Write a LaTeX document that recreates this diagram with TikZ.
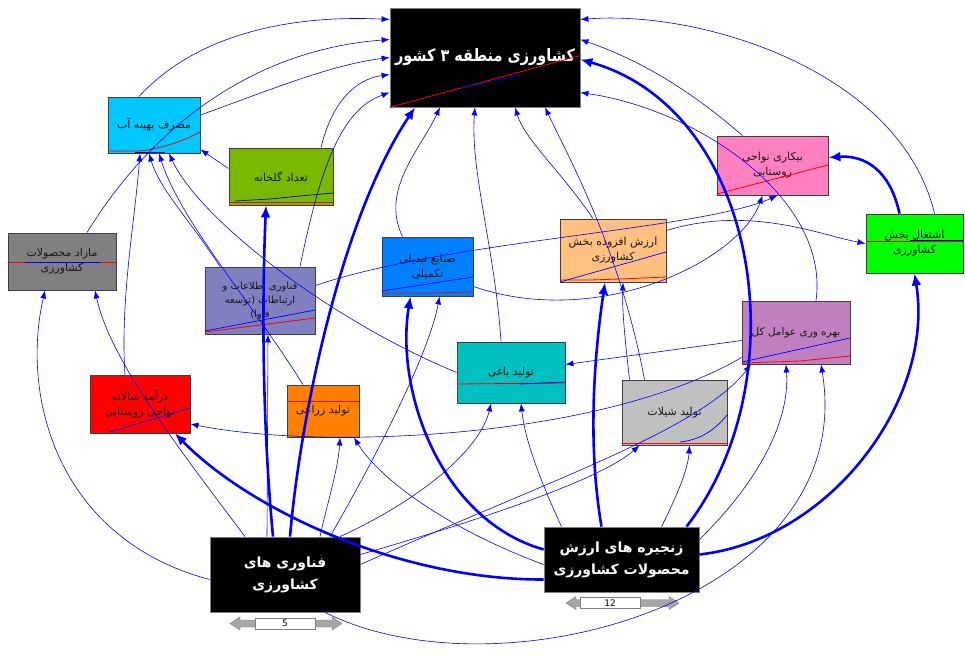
\documentclass[tikz,border=0pt]{standalone}
\usepackage{fontspec}
\setmainfont{DejaVu Sans}
\newfontfamily\arabicfont[Script=Arabic]{DejaVu Sans}
\TeXXeTstate=1
\usetikzlibrary{arrows.meta}
\newcommand{\fa}[1]{{\arabicfont\beginR #1\endR}}
\definecolor{arrblue}{HTML}{0000FF}
\begin{document}
\begin{tikzpicture}[x=1pt,y=-1pt,
 box/.style={draw=black!75, line width=0.9pt, inner sep=1pt, align=center,
   font=\fontsize{11}{15}\selectfont, text=black!90},
 bigbox/.style={draw=gray, line width=0.8pt, fill=black, text=white, align=center, inner sep=0pt,
   font=\fontsize{14}{22}\selectfont\bfseries},
 lnk/.style={draw=arrblue, line width=0.6pt, -{Latex[length=8pt,width=6pt]}},
 thk/.style={draw=arrblue, line width=2.6pt, -{Latex[length=12pt,width=10pt]}},
 spr/.style={red, line width=0.8pt},
 spb/.style={arrblue, line width=0.7pt},
]
\useasboundingbox[fill=white] (0,0) rectangle (965,668);

% ---------- nodes ----------
\node[bigbox, minimum width=190pt, minimum height=99pt, font=\fontsize{17}{21}\selectfont\bfseries] (top) at (485,57.5) {\scalebox{0.85}[1]{\fa{کشاورزی منطقه ۳ کشور}}};
\node[box, fill={rgb,255:red,0;green,200;blue,255}, minimum width=92pt, minimum height=56pt] (mas) at (154,125) {\fa{مصرف بهینه آب}};
\node[box, fill={rgb,255:red,122;green,184;blue,0}, minimum width=104pt, minimum height=57pt] (gol) at (281,176.5) {\fa{تعداد گلخانه}};
\node[box, fill={rgb,255:red,128;green,128;blue,128}, minimum width=108pt, minimum height=57pt] (mazad) at (62,261.5) {\fa{مازاد محصولات}\\\fa{کشاورزی}};
\node[box, fill={rgb,255:red,128;green,128;blue,192}, minimum width=110pt, minimum height=67pt, font=\fontsize{10}{14}\selectfont] (faava) at (260,300.5) {\fa{فناوری اطلاعات و}\\\fa{ارتباطات (توسعه}\\\fa{فاوا)}};
\node[box, fill={rgb,255:red,0;green,128;blue,255}, minimum width=91pt, minimum height=59pt] (sanaye) at (427.5,266.5) {\fa{صنایع تبدیلی}\\\fa{تکمیلی}};
\node[box, fill={rgb,255:red,255;green,192;blue,128}, minimum width=106pt, minimum height=63pt] (arzesh) at (613,250.5) {\fa{ارزش افزوده بخش}\\\fa{کشاورزی}};
\node[box, fill={rgb,255:red,255;green,128;blue,192}, minimum width=111pt, minimum height=59pt] (bikari) at (772.5,165.5) {\fa{بیکاری نواحی}\\\fa{روستایی}};
\node[box, fill={rgb,255:red,0;green,255;blue,0}, minimum width=97pt, minimum height=59pt] (esht) at (914.5,243.5) {\fa{اشتغال بخش}\\\fa{کشاورزی}};
\node[box, fill={rgb,255:red,192;green,128;blue,192}, minimum width=108pt, minimum height=63pt, font=\fontsize{10.5}{15}\selectfont] (bahre) at (796,332.5) {\fa{بهره وری عوامل کل}};
\node[box, fill={rgb,255:red,0;green,192;blue,192}, minimum width=108pt, minimum height=61pt] (baghi) at (511,372.5) {\fa{تولید باغی}};
\node[box, fill={rgb,255:red,255;green,0;blue,0}, minimum width=100pt, minimum height=58pt] (daramad) at (140,404) {\fa{درآمد سالانه}\\\fa{نواحی روستایی}};
\node[box, fill={rgb,255:red,255;green,128;blue,0}, minimum width=72pt, minimum height=52pt] (zeraee) at (323,411) {\fa{تولید زراعی}};
\node[box, fill={rgb,255:red,192;green,192;blue,192}, minimum width=105pt, minimum height=65pt] (shilat) at (674.5,412.5) {\fa{تولید شیلات}};
\node[bigbox, minimum width=150pt, minimum height=75pt] (tech) at (285,574.5) {\fa{فناوری های}\\\fa{کشاورزی}};
\node[bigbox, minimum width=155pt, minimum height=65pt] (zanj) at (621.5,559.5) {\fa{زنجیره های ارزش}\\\fa{محصولات کشاورزی}};

% ---------- sliders ----------
\fill[gray!70, draw=gray] (230,623.5) -- (240,617) -- (240,620) -- (332,620) -- (332,617) -- (342,623.5) -- (332,630) -- (332,627) -- (240,627) -- (240,630) -- cycle;
\node[draw=gray, fill=white, minimum width=60pt, minimum height=11pt, inner sep=0pt, font=\fontsize{9}{10}\selectfont] (sl1) at (285,623.5) {5};
\fill[gray!70, draw=gray] (566,603) -- (576,596.5) -- (576,599.5) -- (669,599.5) -- (669,596.5) -- (679,603) -- (669,609.5) -- (669,606.5) -- (576,606.5) -- (576,609.5) -- cycle;
\node[draw=gray, fill=white, minimum width=60pt, minimum height=11pt, inner sep=0pt, font=\fontsize{9}{10}\selectfont] (sl2) at (610,603) {12};

% ---------- sparklines ----------
\draw[spr] (top.south west) -- ([yshift=2pt]top.east);
\draw[spb] (460,88) -- (520,75);
\draw[spr] (108,151) -- (140,151) .. controls (165,148) and (185,140) .. (200,132);
\draw[spb] (135,152) -- (165,152);
\draw[spr] (229,202.5) -- (333,202.5);
\draw[spb] (235,201) -- (270,199) -- (300,196) -- (333,193);
\draw[spr] (8,262) -- (116,262);
\draw[spb] (25,262) -- (100,262);
\draw[spr] (205,332) -- (315,318);
\draw[spb] (205,331) -- (315,310);
\draw[spr] (382,293) -- (430,293) -- (473,292);
\draw[spb] (382,291) -- (473,277);
\draw[spr] (560,280) -- (590,280) -- (620,279) -- (666,277);
\draw[spb] (560,282) -- (666,252);
\draw[spr] (717,194) -- (828,165);
\draw[spr] (866,241) -- (963,241);
\draw[spb] (910,240) -- (963,240);
\draw[spr] (742,363) -- (800,361) -- (850,356);
\draw[spb] (742,362) -- (850,338);
\draw[spr] (457,384) -- (565,383);
\draw[spb] (520,384) -- (565,382);
\draw[spb] (110,432) -- (190,408);
\draw[spr] (287,401) -- (359,401);
\draw[spr] (622,443) -- (727,443);
\draw[spb] (680,442) .. controls (700,440) and (715,430) .. (727,415);

% ---------- thick connectors ----------
\draw[thk] ([xshift=5pt]tech.north) .. controls (300,420) and (340,220) .. ([xshift=-70pt]top.south);
\draw[thk] ([xshift=-12pt]tech.north) .. controls (262,420) and (262,300) .. ([xshift=-15pt]gol.south);
\draw[thk] ([xshift=65pt]zanj.north) .. controls (800,380) and (760,110) .. ([yshift=-2pt]top.east);
\draw[thk] ([xshift=-20pt]zanj.north) .. controls (585,430) and (598,330) .. ([xshift=-8pt]arzesh.south);
\draw[thk] ([yshift=10pt]zanj.west) .. controls (440,520) and (395,390) .. ([xshift=-17pt]sanaye.south);
\draw[thk] ([yshift=5pt]zanj.east) .. controls (830,540) and (935,400) .. (esht.south);
\draw[thk] ([xshift=-15pt]esht.north) .. controls (890,170) and (865,155) .. ([yshift=8pt]bikari.east);
\draw[thk] ([yshift=-20pt]zanj.west) .. controls (400,580) and (250,510) .. ([xshift=35pt]daramad.south);

% ---------- thin connectors ----------
\draw[lnk] ([yshift=8pt]gol.west) -- ([yshift=4pt]mas.south east);
\draw[lnk] ([xshift=-40pt]faava.north) .. controls (190,220) and (160,190) .. ([xshift=-5pt]mas.south);
\draw[lnk] ([xshift=-15pt]daramad.north) .. controls (120,300) and (135,220) .. ([xshift=-14pt]mas.south);
\draw[lnk] ([xshift=-20pt]zeraee.north) .. controls (250,300) and (180,220) .. ([xshift=5pt]mas.south);
\draw[lnk] (baghi.west) .. controls (330,320) and (200,220) .. ([xshift=15pt]mas.south);
\draw[lnk] ([xshift=-40pt]tech.north) .. controls (180,450) and (110,360) .. ([xshift=33pt]mazad.south);
\draw[lnk] ([yshift=-5pt]tech.west) .. controls (60,540) and (20,400) .. ([xshift=-17pt]mazad.south);
\draw[lnk] ([xshift=25pt]mazad.north) .. controls (150,130) and (250,50) .. ([yshift=18pt]top.west);
\draw[lnk] ([xshift=-15pt]mas.north) .. controls (200,30) and (300,15) .. ([yshift=38pt]top.west);
\draw[lnk] ([yshift=10pt]mas.east) .. controls (270,90) and (330,65) .. (top.west);
\draw[lnk] ([xshift=40pt]gol.north) .. controls (330,110) and (350,80) .. ([yshift=-17pt]top.west);
\draw[lnk] ([xshift=40pt]faava.north) .. controls (320,170) and (340,110) .. ([yshift=-35pt]top.west);
\draw[lnk] ([xshift=-25pt]sanaye.north) .. controls (380,190) and (420,150) .. ([xshift=-45pt]top.south);
\draw[lnk] ([xshift=-20pt]arzesh.north) .. controls (560,170) and (525,140) .. ([xshift=30pt]top.south);
\draw[lnk] ([xshift=-10pt]baghi.north) .. controls (495,250) and (470,170) .. ([xshift=-10pt]top.south);
\draw[lnk] ([xshift=-30pt]bikari.north) .. controls (690,90) and (640,60) .. ([yshift=18pt]top.east);
\draw[lnk] ([xshift=20pt]esht.north) .. controls (900,70) and (700,10) .. ([yshift=38pt]top.east);
\draw[lnk] ([xshift=20pt]bahre.north) .. controls (830,200) and (700,110) .. ([yshift=-35pt]top.east);
\draw[lnk] ([xshift=-30pt]shilat.north) .. controls (620,250) and (570,160) .. ([xshift=60pt]top.south);
\draw[lnk] ([yshift=-8pt]bahre.west) -- ([yshift=8pt]baghi.east);
\draw[lnk] ([yshift=-25pt]bahre.west) .. controls (600,440) and (320,450) .. ([yshift=-20pt]daramad.east);
\draw[lnk] ([yshift=20pt]arzesh.east) .. controls (750,205) and (820,235) .. (esht.west);
\draw[lnk] ([xshift=-18pt]tech.north) -- ([xshift=8pt]faava.south);
\draw[lnk] ([xshift=35pt]tech.north) .. controls (328,500) and (338,470) .. ([xshift=17pt]zeraee.south);
\draw[lnk] ([xshift=55pt]tech.north) .. controls (420,500) and (480,450) .. ([xshift=-20pt]baghi.south);
\draw[lnk] ([yshift=20pt]tech.east) .. controls (480,520) and (600,480) .. ([xshift=-35pt]shilat.south);
\draw[lnk] ([yshift=10pt]tech.east) .. controls (550,480) and (700,430) .. ([xshift=-45pt]bahre.south);
\draw[lnk] ([xshift=45pt]tech.north) .. controls (380,450) and (430,350) .. ([xshift=12pt]sanaye.south);
\draw[lnk] ([xshift=40pt]zanj.north) .. controls (675,500) and (688,470) .. ([xshift=15pt]shilat.south);
\draw[lnk] ([yshift=20pt]zanj.east) .. controls (760,480) and (790,420) .. ([xshift=-10pt]bahre.south);
\draw[lnk] ([yshift=-5pt]zanj.west) .. controls (450,530) and (380,480) .. ([xshift=31pt]zeraee.south);
\draw[lnk] ([yshift=-20pt]sanaye.east) .. controls (600,330) and (740,260) .. ([xshift=-10pt]bikari.south);
\draw[lnk] ([yshift=15pt]faava.east) .. controls (450,240) and (700,230) .. ([xshift=5pt]bikari.south);
\draw[lnk] ([xshift=40pt]tech.south) .. controls (500,700) and (860,600) .. ([xshift=25pt]bahre.south);
\draw[lnk] ([xshift=-45pt]shilat.north) .. controls (625,340) and (622,310) .. ([xshift=10pt]arzesh.south);
\draw[lnk] ([xshift=-60pt]zanj.north) .. controls (540,480) and (525,440) .. ([xshift=10pt]baghi.south);
\end{tikzpicture}
\end{document}
